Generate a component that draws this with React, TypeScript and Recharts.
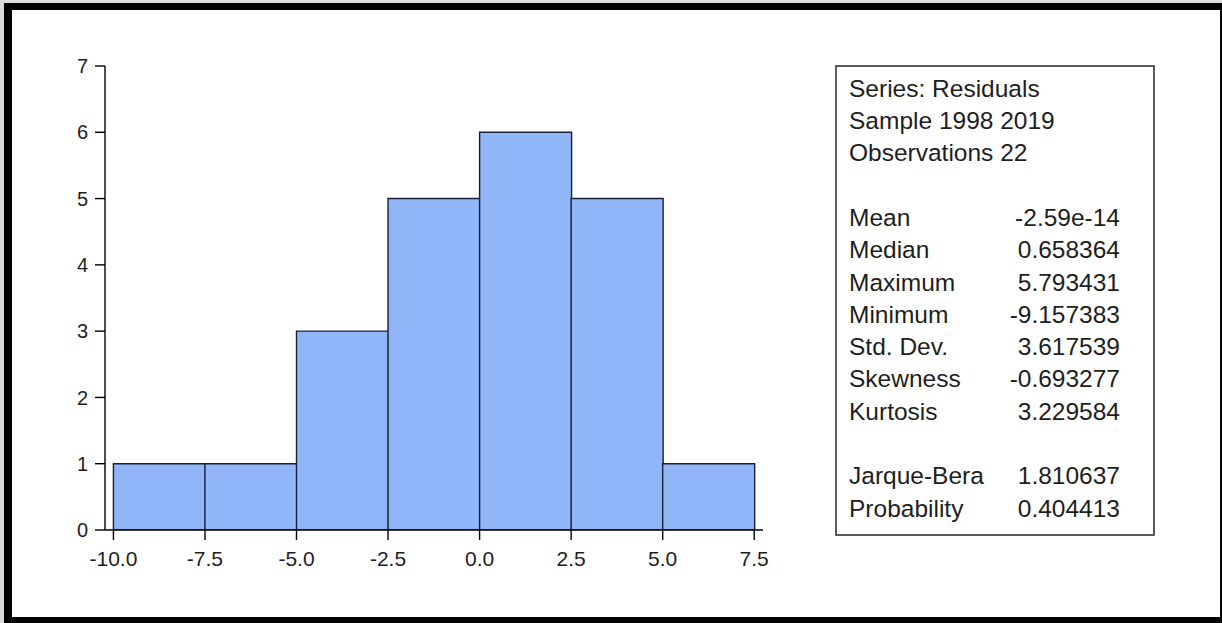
import React from 'react';
import { BarChart, Bar, XAxis, YAxis } from 'recharts';

const binStarts = [-10, -7.5, -5, -2.5, 0, 2.5, 5];
const binWidth = 2.5;
const counts = [1, 1, 3, 5, 6, 5, 1];
const xTicks = [-10, -7.5, -5, -2.5, 0, 2.5, 5, 7.5];
const yTicks = [0, 1, 2, 3, 4, 5, 6, 7];
const xDomain: [number, number] = [-10.23, 7.74];
const yDomain: [number, number] = [0, 7];

const headerLines = ['Series: Residuals', 'Sample 1998 2019', 'Observations 22'];
const statLabels = ['Mean', 'Median', 'Maximum', 'Minimum', 'Std. Dev.', 'Skewness', 'Kurtosis'];
const statValues = ['-2.59e-14', '0.658364', '5.793431', '-9.157383', '3.617539', '-0.693277', '3.229584'];
const testLabels = ['Jarque-Bera', 'Probability'];
const testValues = ['1.810637', '0.404413'];

const data = binStarts.map((s, i) => ({ mid: s + binWidth / 2, count: counts[i] }));

const FONT = '"Liberation Sans", Arial, sans-serif';
const TEXT = '#1e1e1e';

export default function App() {
  const lineY = (i: number) => 96.7 + i * 32.3;
  return (
    <div style={{ position: 'absolute', left: 0, top: 0, width: 1222, height: 623, background: '#dcdcdc', overflow: 'hidden' }}>
      <div
        style={{
          position: 'absolute',
          left: 4,
          top: 3,
          width: 1218,
          height: 620,
          boxSizing: 'border-box',
          borderLeft: '8px solid #000',
          borderTop: '7px solid #000',
          borderRight: '2px solid #000',
          borderBottom: '6px solid #000',
          background: '#fff',
        }}
      />
      <div style={{ position: 'absolute', left: 0, top: 0 }}>
        <BarChart
          width={1222}
          height={623}
          data={data}
          margin={{ top: 66, right: 459, bottom: 53, left: 45 }}
          barCategoryGap={0}
          barGap={0}
        >
          <XAxis
            xAxisId="b"
            type="number"
            dataKey="mid"
            domain={xDomain}
            ticks={xTicks}
            interval={0}
            allowDataOverflow
            tickFormatter={(v: number) => v.toFixed(1)}
            tickSize={10}
            tickMargin={11}
            height={40}
            axisLine={{ stroke: '#000', strokeWidth: 1.4 }}
            tickLine={{ stroke: '#000', strokeWidth: 1.4 }}
            tick={{ fill: TEXT, fontSize: 21, fontFamily: FONT }}
          />
          <XAxis
            xAxisId="t"
            orientation="top"
            type="number"
            dataKey="mid"
            domain={xDomain}
            allowDataOverflow
            height={0}
            tick={false}
            tickLine={false}
            axisLine={{ stroke: '#000', strokeWidth: 1.4 }}
          />
          <YAxis
            yAxisId="l"
            type="number"
            domain={yDomain}
            ticks={yTicks}
            interval={0}
            allowDataOverflow
            width={60}
            tickSize={10}
            tickMargin={7}
            axisLine={{ stroke: '#000', strokeWidth: 1.4 }}
            tickLine={{ stroke: '#000', strokeWidth: 1.4 }}
            tick={{ fill: TEXT, fontSize: 20, fontFamily: FONT }}
          />
          <YAxis
            yAxisId="r"
            orientation="right"
            type="number"
            domain={yDomain}
            allowDataOverflow
            width={0}
            tick={false}
            tickLine={false}
            axisLine={{ stroke: '#000', strokeWidth: 1.4 }}
          />
          <Bar
            xAxisId="b"
            yAxisId="l"
            dataKey="count"
            fill="#91b6f8"
            stroke="#1b1e38"
            strokeWidth={1.4}
            isAnimationActive={false}
          />
        </BarChart>
      </div>
      <svg width={1222} height={623} style={{ position: 'absolute', left: 0, top: 0, pointerEvents: 'none' }}>
        <rect x={836} y={66} width={318} height={469} fill="none" stroke="#333" strokeWidth={1.6} />
        <g fontFamily={FONT} fontSize={24.5} fill={TEXT}>
          {headerLines.map((t, i) => (
            <text key={'h' + i} x={849} y={lineY(i)}>{t}</text>
          ))}
          {statLabels.map((t, i) => (
            <text key={'sl' + i} x={849} y={lineY(i + 4)}>{t}</text>
          ))}
          {statValues.map((t, i) => (
            <text key={'sv' + i} x={1120} y={lineY(i + 4)} textAnchor="end">{t}</text>
          ))}
          {testLabels.map((t, i) => (
            <text key={'tl' + i} x={849} y={lineY(i + 12)}>{t}</text>
          ))}
          {testValues.map((t, i) => (
            <text key={'tv' + i} x={1120} y={lineY(i + 12)} textAnchor="end">{t}</text>
          ))}
        </g>
      </svg>
    </div>
  );
}
